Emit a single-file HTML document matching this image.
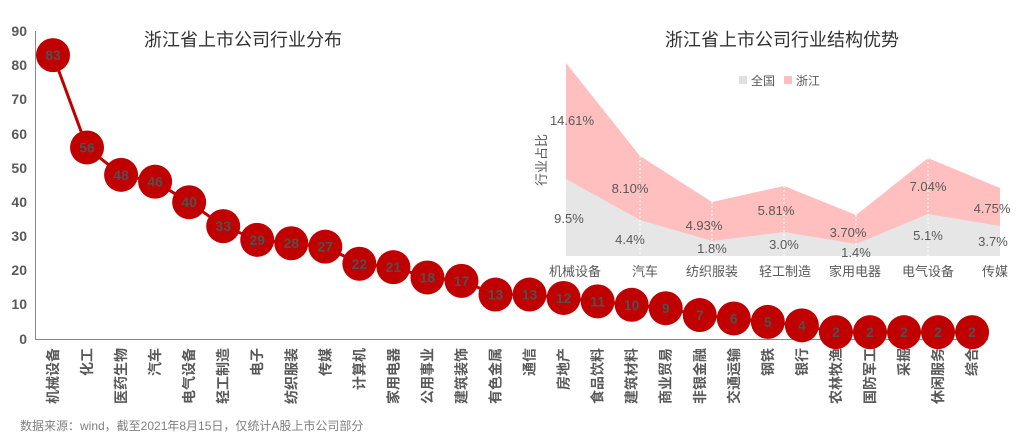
<!DOCTYPE html>
<html><head><meta charset="utf-8"><style>
html,body{margin:0;padding:0;background:#fff;}
svg{display:block;font-family:"Liberation Sans","Noto Sans CJK SC",sans-serif;}
</style></head><body>
<svg width="1024" height="437" viewBox="0 0 1024 437">
<rect width="1024" height="437" fill="#fff"/>
<polygon points="566,63 640,156 712,202 784,186 856,215 928,158 1000,188 1000,256 566,256" fill="#ffbfbf"/>
<polygon points="566,179 640,220 712,241 784,232 856,244 928,214 1000,226 1000,256 566,256" fill="#e6e6e6"/>
<g stroke="#fff" stroke-dasharray="2,2" stroke-width="1">
<line x1="640" y1="156" x2="640" y2="256"/><line x1="712" y1="202" x2="712" y2="256"/><line x1="784" y1="186" x2="784" y2="256"/><line x1="856" y1="215" x2="856" y2="256"/><line x1="928" y1="158" x2="928" y2="256"/>
</g>
<g font-size="13" fill="#595959" text-anchor="middle">
<text x="572" y="125">14.61%</text><text x="630" y="193">8.10%</text><text x="704" y="230">4.93%</text><text x="776" y="215">5.81%</text><text x="848" y="237">3.70%</text><text x="928" y="191">7.04%</text><text x="992" y="213">4.75%</text>
<text x="569" y="223">9.5%</text><text x="630" y="244">4.4%</text><text x="712" y="253">1.8%</text><text x="784" y="249">3.0%</text><text x="856" y="257">1.4%</text><text x="928" y="240">5.1%</text><text x="993" y="246">3.7%</text>
<text x="575" y="276">机械设备</text><text x="645" y="276">汽车</text><text x="712" y="276">纺织服装</text><text x="785" y="276">轻工制造</text><text x="855" y="276">家用电器</text><text x="928" y="276">电气设备</text><text x="995" y="276">传媒</text>
</g>
<text x="546" y="160" font-size="13" fill="#595959" text-anchor="middle" transform="rotate(-90 546 160)">行业占比</text>
<rect x="739" y="76" width="8" height="8" fill="#e0e0e0"/><text x="751" y="85" font-size="12" fill="#595959">全国</text>
<rect x="784" y="76" width="8" height="8" fill="#ffbfbf"/><text x="796" y="85" font-size="12" fill="#595959">浙江</text>
<text x="782" y="46" font-size="18" fill="#333" text-anchor="middle">浙江省上市公司行业结构优势</text>
<text x="243" y="46" font-size="18" fill="#333" text-anchor="middle">浙江省上市公司行业分布</text>
<line x1="35.5" y1="31" x2="35.5" y2="339" stroke="#888" stroke-width="1"/>
<line x1="35" y1="339.5" x2="988" y2="339.5" stroke="#888" stroke-width="1"/>
<g font-size="14" font-weight="bold" fill="#595959" text-anchor="end">
<text x="27" y="36">90</text><text x="27" y="70">80</text><text x="27" y="104">70</text><text x="27" y="139">60</text><text x="27" y="173">50</text><text x="27" y="207">40</text><text x="27" y="241">30</text><text x="27" y="275">20</text><text x="27" y="309">10</text><text x="27" y="344">0</text>
</g>
<g id="main"></g>
<text x="20" y="430" font-size="12" fill="#808080">数据来源：wind，截至2021年8月15日，仅统计A股上市公司部分</text>
</svg>
<script>
var v=[83,56,48,46,40,33,29,28,27,22,21,18,17,13,13,12,11,10,9,7,6,5,4,2,2,2,2,2];
var n=["机械设备","化工","医药生物","汽车","电气设备","轻工制造","电子","纺织服装","传媒","计算机","家用电器","公用事业","建筑装饰","有色金属","通信","房地产","食品饮料","建筑材料","商业贸易","非银金融","交通运输","钢铁","银行","农林牧渔","国防军工","采掘","休闲服务","综合"];
var g=document.getElementById("main"),s="",pts=[];
for(var i=0;i<v.length;i++){var x=53+i*34.04,y=339-v[i]*3.42;pts.push(x.toFixed(1)+","+y.toFixed(1));}
s+='<polyline points="'+pts.join(" ")+'" fill="none" stroke="#c00000" stroke-width="3"/>';
for(var i=0;i<v.length;i++){var x=53+i*34.04,y=339-v[i]*3.42;
s+='<circle cx="'+x+'" cy="'+y+'" r="17" fill="#c00000"/>';
s+='<text x="'+x+'" y="'+(y+5)+'" font-size="14" font-weight="bold" fill="#505050" text-anchor="middle">'+v[i]+'</text>';
s+='<text x="'+(x+5)+'" y="348" font-size="14" font-weight="bold" fill="#595959" text-anchor="end" transform="rotate(-90 '+(x+5)+' 348)">'+n[i]+'</text>';}
g.innerHTML=s;
</script>
</body></html>
